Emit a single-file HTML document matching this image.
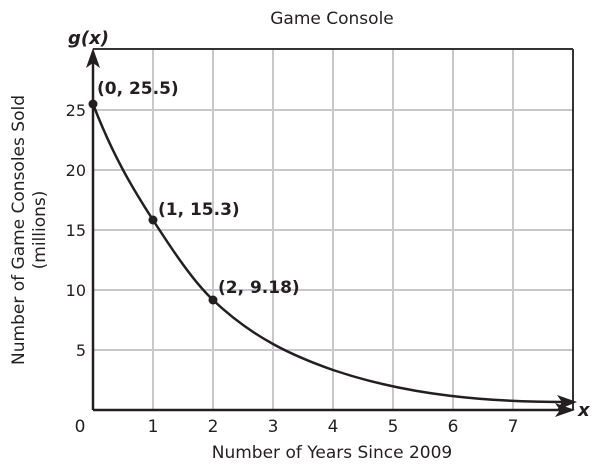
<!DOCTYPE html>
<html><head><style>body{margin:0;background:#fff}</style></head><body>
<svg width="606" height="468" xmlns="http://www.w3.org/2000/svg" font-family="'DejaVu Sans', 'Liberation Sans', sans-serif">
<g stroke="#c8c8cc" stroke-width="2">
<line x1="153" y1="49" x2="153" y2="410"/><line x1="213" y1="49" x2="213" y2="410"/><line x1="273" y1="49" x2="273" y2="410"/><line x1="333" y1="49" x2="333" y2="410"/><line x1="393" y1="49" x2="393" y2="410"/><line x1="453" y1="49" x2="453" y2="410"/><line x1="513" y1="49" x2="513" y2="410"/>
<line x1="93" y1="350" x2="573" y2="350"/><line x1="93" y1="290" x2="573" y2="290"/><line x1="93" y1="230" x2="573" y2="230"/><line x1="93" y1="170" x2="573" y2="170"/><line x1="93" y1="110" x2="573" y2="110"/>
</g>
<g stroke="#333" stroke-width="2" fill="none">
<line x1="93" y1="49" x2="573" y2="49"/><line x1="573" y1="49" x2="573" y2="410"/>
</g>
<g stroke="#231f20" stroke-width="2.5" fill="none">
<line x1="93" y1="410" x2="565" y2="410"/><line x1="93" y1="410" x2="93" y2="58"/>
</g>
<polygon points="93,48 86,68 93,63 100,68" fill="#231f20"/>
<polygon points="575,410 555,403 560,410 555,417" fill="#231f20"/>
<path d="M93,104 C113,156 133,189 153,220 C173,251 193,281 213,300 C253,338 293,356 333,370 C410,396 490,402 565,402" stroke="#231f20" stroke-width="2.5" fill="none"/>
<polygon points="577,402 557,395 562,402 557,410" fill="#231f20"/>
<circle cx="93" cy="104" r="4.5" fill="#231f20"/><circle cx="153" cy="220" r="4.5" fill="#231f20"/><circle cx="213" cy="300" r="4.5" fill="#231f20"/>
<g font-weight="bold" font-size="17" fill="#231f20">
<text x="97" y="94">(0, 25.5)</text><text x="158" y="215">(1, 15.3)</text><text x="218" y="293">(2, 9.18)</text>
<text x="68" y="44" font-style="italic" font-size="18">g(x)</text><text x="578" y="416" font-style="italic" font-size="18">x</text>
</g>
<g font-size="17" fill="#231f20" text-anchor="middle">
<text x="332" y="24">Game Console</text>
<text x="332" y="458">Number of Years Since 2009</text>
<text x="80" y="432">0</text><text x="153" y="432">1</text><text x="213" y="432">2</text><text x="273" y="432">3</text><text x="333" y="432">4</text><text x="393" y="432">5</text><text x="453" y="432">6</text><text x="513" y="432">7</text>
</g>
<g font-size="16" fill="#231f20" text-anchor="end">
<text x="86" y="356">5</text><text x="86" y="296">10</text><text x="86" y="236">15</text><text x="86" y="176">20</text><text x="86" y="116">25</text>
</g>
<g font-size="17" fill="#231f20" text-anchor="middle">
<text transform="translate(24,230) rotate(-90)">Number of Game Consoles Sold</text>
<text transform="translate(45,230) rotate(-90)">(millions)</text>
</g>
</svg>
</body></html>
